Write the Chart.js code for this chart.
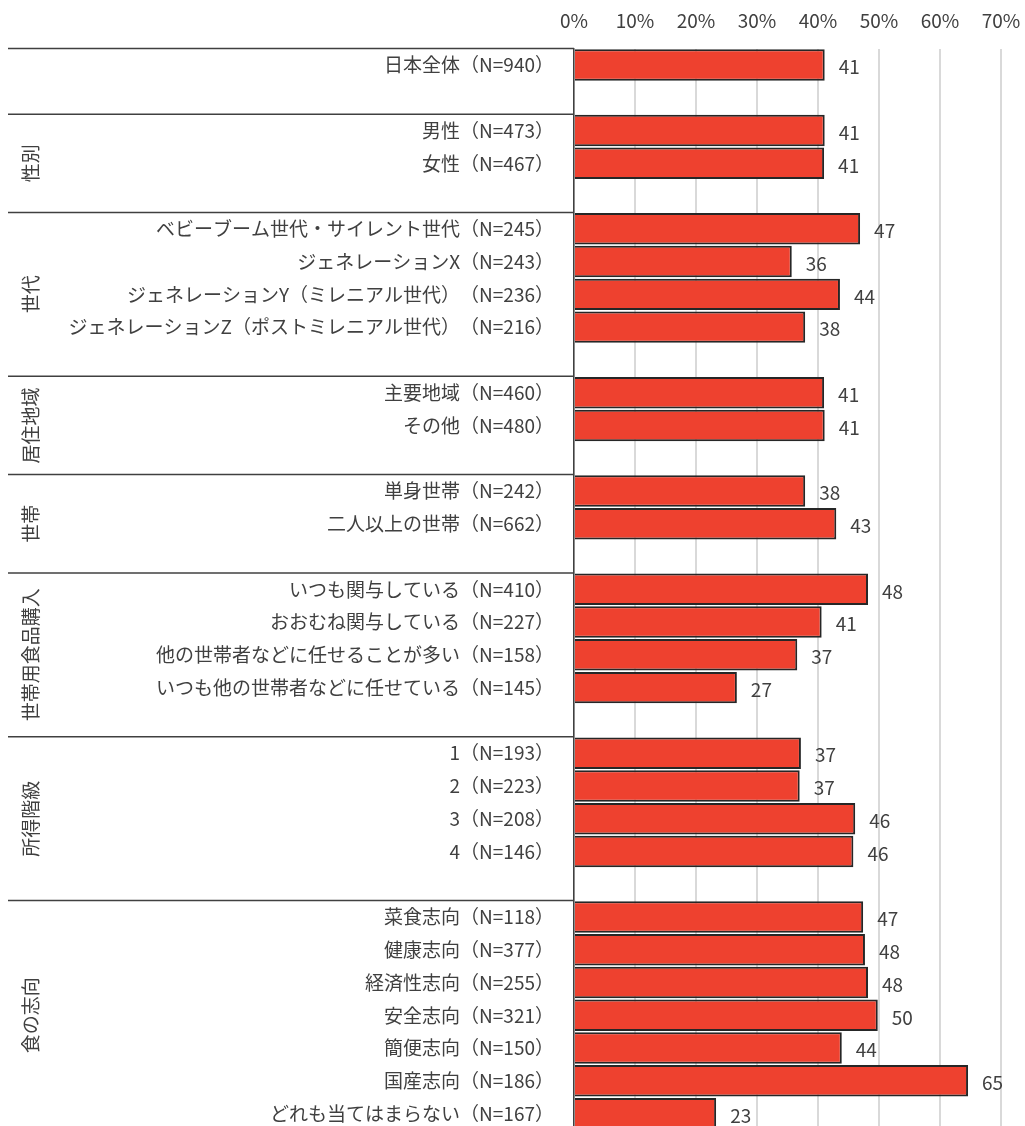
<!DOCTYPE html>
<html lang="ja">
<head>
<meta charset="utf-8">
<title>食品購入の調査結果</title>
<script src="https://cdn.jsdelivr.net/npm/chart.js@4.4.1/dist/chart.umd.min.js"></script>
<style>
  html, body { margin: 0; padding: 0; background: #ffffff; overflow: hidden; }
  #chart { display: block; text-spacing-trim: space-all; }
</style>
</head>
<body>
<canvas id="chart" width="1025" height="1130"></canvas>
<script>
// Rows of the chart, blank strings are spacer rows between groups
const categories = [
  '日本全体（N=940）', '',
  '男性（N=473）', '女性（N=467）', '',
  'ベビーブーム世代・サイレント世代（N=245）', 'ジェネレーションX（N=243）',
  'ジェネレーションY（ミレニアル世代）（N=236）', 'ジェネレーションZ（ポストミレニアル世代）（N=216）', '',
  '主要地域（N=460）', 'その他（N=480）', '',
  '単身世帯（N=242）', '二人以上の世帯（N=662）', '',
  'いつも関与している（N=410）', 'おおむね関与している（N=227）',
  '他の世帯者などに任せることが多い（N=158）', 'いつも他の世帯者などに任せている（N=145）', '',
  '1（N=193）', '2（N=223）', '3（N=208）', '4（N=146）', '',
  '菜食志向（N=118）', '健康志向（N=377）', '経済性志向（N=255）', '安全志向（N=321）',
  '簡便志向（N=150）', '国産志向（N=186）', 'どれも当てはまらない（N=167）',
];

// Share in percent, null on spacer rows
const values = [
  41.1, null,
  41.1, 41.0, null,
  46.9, 35.7, 43.6, 37.9, null,
  41.0, 41.1, null,
  37.9, 43.0, null,
  48.2, 40.6, 36.6, 26.7, null,
  37.2, 37.0, 46.1, 45.8, null,
  47.4, 47.7, 48.2, 49.8, 43.9, 64.6, 23.3,
];

// Group headings and the row where each group begins
const groupNames = ['', '性別', '世代', '居住地域', '世帯', '世帯用食品購入', '所得階級', '食の志向'];
const groupStarts = [0, 2, 5, 10, 13, 16, 21, 26];

const xMax = 70;
const xStep = 10;

const TEXT = '#404040';
const FONT = "'Noto Sans CJK JP', 'Noto Sans', sans-serif";

// Group separators and rotated group titles on the left
const groupPlugin = {
  id: 'groups',
  afterDraw(ch) {
    const { ctx, chartArea, scales: { y } } = ch;
    const rowH = y.getPixelForValue(1) - y.getPixelForValue(0);
    const tops = groupStarts.map(r => y.getPixelForValue(r) - rowH / 2);
    ctx.save();
    ctx.strokeStyle = TEXT;
    ctx.lineWidth = 1.5;
    tops.forEach(t => {
      ctx.beginPath();
      ctx.moveTo(8, t);
      ctx.lineTo(chartArea.left, t);
      ctx.stroke();
    });
    ctx.fillStyle = TEXT;
    ctx.font = `19px ${FONT}`;
    ctx.textAlign = 'center';
    ctx.textBaseline = 'middle';
    groupNames.forEach((name, i) => {
      if (!name) return;
      const bottom = i + 1 < tops.length ? tops[i + 1] : chartArea.bottom;
      const mid = (tops[i] + bottom) / 2;
      ctx.save();
      ctx.translate(31, mid);
      ctx.rotate(-Math.PI / 2);
      ctx.fillText(name, 0, 0);
      ctx.restore();
    });
    ctx.restore();
  },
};

// Rounded value next to each bar
const valuePlugin = {
  id: 'values',
  afterDatasetsDraw(ch) {
    const { ctx } = ch;
    const meta = ch.getDatasetMeta(0);
    ctx.save();
    ctx.fillStyle = TEXT;
    ctx.font = `19px ${FONT}`;
    ctx.textAlign = 'left';
    ctx.textBaseline = 'middle';
    meta.data.forEach((bar, i) => {
      if (values[i] == null) return;
      ctx.fillText(String(Math.round(values[i])), bar.x + 14, bar.y + 2);
    });
    ctx.restore();
  },
};

new Chart(document.getElementById('chart'), {
  type: 'bar',
  plugins: [groupPlugin, valuePlugin],
  data: {
    labels: categories,
    datasets: [{
      data: values,
      backgroundColor: '#EE412F',
      borderColor: '#262626',
      borderWidth: 2,
      barPercentage: 0.96,
      categoryPercentage: 1,
    }],
  },
  options: {
    indexAxis: 'y',
    responsive: false,
    animation: false,
    layout: { padding: { left: 0, right: 24, top: 0, bottom: 0 } },
    plugins: {
      legend: { display: false },
      tooltip: { enabled: false },
    },
    scales: {
      x: {
        position: 'top',
        min: 0,
        max: xMax,
        afterFit: s => {
          s.height = 48.6;
          s.paddingLeft = 0;
          s.paddingRight = 0;
        },
        ticks: {
          stepSize: xStep,
          padding: 16,
          color: TEXT,
          font: { family: FONT, size: 19 },
          callback: v => `${v}%`,
        },
        grid: { color: '#D9D9D9', lineWidth: 2, drawTicks: false },
        border: { display: false },
      },
      y: {
        afterFit: s => {
          s.width = 574;
          s.paddingTop = 0;
          s.paddingBottom = 0;
        },
        ticks: {
          autoSkip: false,
          padding: 20,
          color: TEXT,
          font: { family: FONT, size: 19 },
        },
        grid: { display: false, drawTicks: false },
        border: { display: true, color: TEXT, width: 1.5 },
      },
    },
  },
});
</script>
</body>
</html>
